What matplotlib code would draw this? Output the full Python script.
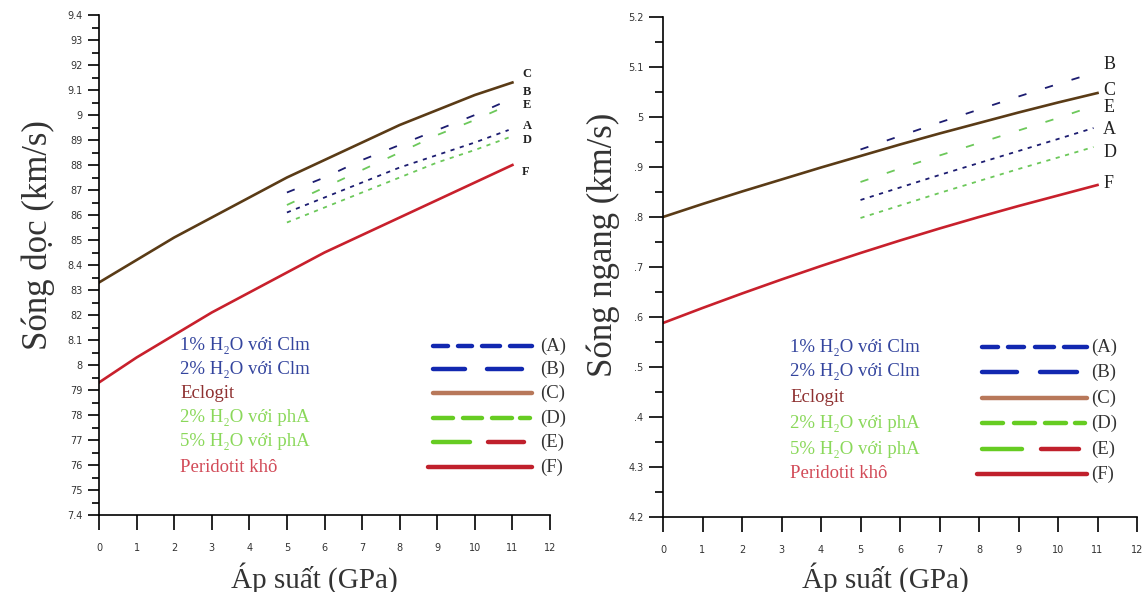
import numpy as np
import matplotlib
matplotlib.use("Agg")
import matplotlib.pyplot as plt

plt.rcParams["lines.scale_dashes"] = False

# pressure axis (GPa)
p_full = [0, 1, 2, 3, 4, 5, 6, 7, 8, 9, 10, 11]
p_part = [5, 6, 7, 8, 9, 10, 10.9]

# left panel: P-wave velocity (km/s)
vp_C = [8.33, 8.42, 8.51, 8.59, 8.67, 8.75, 8.82, 8.89, 8.96, 9.02, 9.08, 9.13]
vp_F = [7.93, 8.03, 8.12, 8.21, 8.29, 8.37, 8.45, 8.52, 8.59, 8.66, 8.73, 8.80]
vp_B = [8.69, 8.75, 8.82, 8.88, 8.94, 9.00, 9.06]
vp_E = [8.64, 8.71, 8.78, 8.85, 8.92, 8.98, 9.04]
vp_A = [8.61, 8.67, 8.73, 8.79, 8.84, 8.89, 8.94]
vp_D = [8.57, 8.63, 8.69, 8.75, 8.81, 8.86, 8.91]

# right panel: S-wave velocity (km/s)
vs_C = [4.800, 4.826, 4.851, 4.875, 4.899, 4.922, 4.945, 4.967, 4.988, 5.009, 5.029, 5.048]
vs_F = [4.588, 4.618, 4.647, 4.675, 4.702, 4.728, 4.753, 4.777, 4.800, 4.822, 4.843, 4.864]
vs_B = [4.935, 4.962, 4.989, 5.015, 5.041, 5.066, 5.088]
vs_E = [4.870, 4.897, 4.923, 4.948, 4.973, 4.998, 5.022]
vs_A = [4.834, 4.859, 4.884, 4.908, 4.932, 4.956, 4.978]
vs_D = [4.798, 4.823, 4.848, 4.872, 4.896, 4.919, 4.940]

x_ticks = list(range(13))
yL_ticks = [7.4, 7.5, 7.6, 7.7, 7.8, 7.9, 8.0, 8.1, 8.2, 8.3, 8.4, 8.5, 8.6, 8.7,
            8.8, 8.9, 9.0, 9.1, 9.2, 9.3, 9.4]
yL_labels = ["7.4", "75", "76", "77", "78", "79", "8", "8.1", "82", "83", "8.4",
             "85", "86", "87", "88", "89", "9", "9.1", "92", "93", "9.4"]
yR_ticks = [4.2, 4.3, 4.4, 4.5, 4.6, 4.7, 4.8, 4.9, 5.0, 5.1, 5.2]
yR_labels = ["4.2", "4.3", ".4", ".5", ".6", ".7", ".8", ".9", "5", "5.1", "5.2"]

legend_texts = ["1% H\u2082O với Clm", "2% H\u2082O với Clm", "Eclogit",
                "2% H\u2082O với phA", "5% H\u2082O với phA", "Peridotit khô"]
legend_tags = ["(A)", "(B)", "(C)", "(D)", "(E)", "(F)"]
legend_text_colors = ["#34459e", "#34459e", "#8e3030", "#8ad85a", "#8ad85a", "#d24b58"]

SERIF = ["Liberation Serif", "DejaVu Serif"]
navy = "#1c1c70"
green = "#6cc85a"
brown = "#5a3b16"
red = "#c8202c"


def style_axes(ax, ylim, yticks, ylabels, ylabel, major_len, minor_len):
    ax.set_xlim(0, 12)
    ax.set_ylim(*ylim)
    for s in ("top", "right"):
        ax.spines[s].set_visible(False)
    for s in ("left", "bottom"):
        ax.spines[s].set_linewidth(1.2)
    ax.set_xticks(x_ticks)
    ax.set_xticklabels([str(t) for t in x_ticks])
    ax.set_yticks(yticks)
    ax.set_yticklabels(ylabels)
    ax.set_yticks(np.arange(ylim[0] + 0.05, ylim[1], 0.1), minor=True)
    ax.tick_params(axis="y", which="major", length=major_len, width=1.2, pad=4,
                   labelsize=7, labelcolor="#333333")
    ax.tick_params(axis="y", which="minor", length=minor_len, width=1.2)
    ax.tick_params(axis="x", which="major", length=11, width=1.2, pad=9,
                   labelsize=7, labelcolor="#333333")
    ax.set_ylabel(ylabel, family=SERIF, fontsize=25, color="#333333", va="center")
    ax.set_xlabel("Áp suất (GPa)", family=SERIF, fontsize=21, color="#333333", va="center")


def draw_legend(ax, tx, lx0, lx1, tagx, rows, fs, segs):
    tr = ax.transAxes
    for i, y in enumerate(rows):
        ax.text(tx, y, legend_texts[i], transform=tr, family=SERIF, fontsize=fs,
                color=legend_text_colors[i], va="center", ha="left")
        ax.text(tagx, y, legend_tags[i], transform=tr, family=SERIF, fontsize=fs,
                color="#333333", va="center", ha="left")
        for (a, b, c) in segs[i]:
            ax.plot([lx0 + a * (lx1 - lx0), lx0 + b * (lx1 - lx0)], [y, y],
                    transform=tr, color=c, lw=3.2, solid_capstyle="round",
                    clip_on=False)


fig = plt.figure(figsize=(11.46, 5.92), dpi=100)
axL = fig.add_axes([99 / 1146, 77 / 592, 451 / 1146, 500 / 592])
axR = fig.add_axes([663 / 1146, 75 / 592, 474 / 1146, 500 / 592])

style_axes(axL, (7.4, 9.4), yL_ticks, yL_labels, "Sóng dọc (km/s)", 8, 5)
style_axes(axR, (4.2, 5.2), yR_ticks, yR_labels, "Sóng ngang (km/s)", 10, 6)
axL.yaxis.set_label_coords(-0.135, 0.56)
axR.yaxis.set_label_coords(-0.125, 0.545)
axL.xaxis.set_label_coords(0.477, -0.126)
axR.xaxis.set_label_coords(0.47, -0.122)

short_dash = (0, (3, 4))
long_dash = (0, (6, 14))

for ax, C, F, A, B, D, E in [(axL, vp_C, vp_F, vp_A, vp_B, vp_D, vp_E),
                             (axR, vs_C, vs_F, vs_A, vs_B, vs_D, vs_E)]:
    ax.plot(p_full, C, color=brown, lw=1.9)
    ax.plot(p_full, F, color=red, lw=1.9)
    ax.plot(p_part, B, color=navy, lw=1.3, ls=long_dash)
    ax.plot(p_part, A, color=navy, lw=1.3, ls=short_dash)
    ax.plot(p_part, E, color=green, lw=1.3, ls=long_dash)
    ax.plot(p_part, D, color=green, lw=1.3, ls=short_dash)

# end-of-curve letters (offsets in points)
left_tags = [("C", vp_C, 11, 6), ("B", vp_B, 10.9, 6), ("E", vp_E, 10.9, 0),
             ("A", vp_A, 10.9, 3), ("D", vp_D, 10.9, -2), ("F", vp_F, 11, -5)]
for t, v, xe, dy in left_tags:
    axL.annotate(t, (xe, v[-1]), xytext=(7 if xe == 11 else 10, dy),
                 textcoords="offset points", family=SERIF, fontsize=9,
                 fontweight="bold", color="#222222", va="center", ha="left")
right_tags = [("B", vs_B, 10.9, 6), ("C", vs_C, 11, 2), ("E", vs_E, 10.9, -1),
              ("A", vs_A, 10.9, -1), ("D", vs_D, 10.9, -4), ("F", vs_F, 11, 1)]
for t, v, xe, dy in right_tags:
    axR.annotate(t, (xe, v[-1]), xytext=(4 if xe == 11 else 7, dy),
                 textcoords="offset points", family=SERIF, fontsize=13,
                 color="#222222", va="center", ha="left")

blue = "#1228b0"
lg_green = "#66cc22"
lg_brown = "#b8785a"
lg_red = "#c0202c"
segs = [
    [(0.0, 0.15, blue), (0.25, 0.4, blue), (0.5, 0.68, blue), (0.78, 1.0, blue)],
    [(0.0, 0.33, blue), (0.55, 0.9, blue)],
    [(0.0, 1.0, lg_brown)],
    [(0.0, 0.2, lg_green), (0.3, 0.5, lg_green), (0.6, 0.8, lg_green), (0.88, 0.98, lg_green)],
    [(0.0, 0.38, lg_green), (0.56, 0.92, lg_red)],
    [(-0.05, 1.0, lg_red)],
]
draw_legend(axL, 0.18, 0.74, 0.96, 0.977,
            [0.338, 0.292, 0.244, 0.194, 0.146, 0.096], 13.5, segs)
draw_legend(axR, 0.268, 0.673, 0.895, 0.903,
            [0.34, 0.29, 0.238, 0.188, 0.136, 0.086], 13.5, segs)

fig.savefig("out.png", dpi=100)
